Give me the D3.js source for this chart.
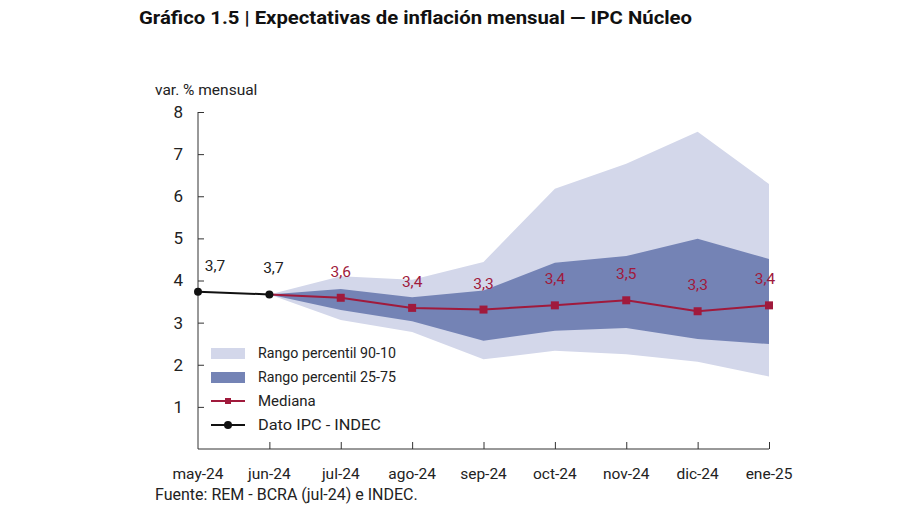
<!DOCTYPE html>
<html><head><meta charset="utf-8">
<script src="https://cdn.jsdelivr.net/npm/d3@7"></script>
<style>body{margin:0;background:#fff;} svg{display:block;font-family:Roboto, "Noto Sans", sans-serif;}</style>
</head><body><svg id="c" width="900" height="505"></svg>
<script>
const categories = ["may-24","jun-24","jul-24","ago-24","sep-24","oct-24","nov-24","dic-24","ene-25"];
const ipc = [3.73, 3.67];
const ipcLabels = ["3,7","3,7"];
const mediana = [null, 3.67, 3.59, 3.35, 3.31, 3.41, 3.53, 3.27, 3.41];
const medianaLabels = [null, null, "3,6","3,4","3,3","3,4","3,5","3,3","3,4"];
const p90 = [null, 3.67, 4.10, 4.02, 4.44, 6.18, 6.77, 7.53, 6.29];
const p10 = [null, 3.67, 3.06, 2.78, 2.13, 2.33, 2.25, 2.07, 1.72];
const p75 = [null, 3.67, 3.80, 3.60, 3.76, 4.42, 4.58, 4.99, 4.51];
const p25 = [null, 3.67, 3.30, 3.03, 2.57, 2.81, 2.87, 2.61, 2.49];
const yTicks = [1,2,3,4,5,6,7,8];

const svg = d3.select("#c");
const x = d3.scalePoint().domain(categories).range([198, 769]);
const y = d3.scaleLinear().domain([0, 8]).range([449, 112]);
const light = "#d3d7ea", dark = "#7483b5", red = "#a01a3c";

svg.append("text").attr("x",139).attr("y",24).attr("font-weight","bold").attr("font-size",18)
  .attr("fill","#111").attr("textLength",553).attr("lengthAdjust","spacingAndGlyphs")
  .text("Gráfico 1.5 | Expectativas de inflación mensual — IPC Núcleo");

const idx = d3.range(1, categories.length);
const area = (lo, hi) => d3.area().x(i => x(categories[i])).y0(i => y(lo[i])).y1(i => y(hi[i]));
svg.append("path").datum(idx).attr("d", area(p10, p90)).attr("fill", light);
svg.append("path").datum(idx).attr("d", area(p25, p75)).attr("fill", dark);

// axes
const yAxis = svg.append("g").attr("transform","translate(198,0)")
  .call(d3.axisRight(y).tickValues(yTicks).tickSize(6).tickFormat(""));
yAxis.select(".domain").attr("d", `M0,${y(8)}V${y(0)}`).attr("stroke","#333");
yAxis.selectAll(".tick line").attr("stroke","#333");
yTicks.forEach(t => svg.append("text").attr("x",183).attr("y",y(t)).attr("dy","0.35em")
  .attr("text-anchor","end").attr("font-size",17).attr("fill","#222").text(t));
svg.append("text").attr("x",155).attr("y",95).attr("font-size",15.5).attr("fill","#222").text("var. % mensual");

const xAxis = svg.append("g").attr("transform",`translate(0,${y(0)})`)
  .call(d3.axisTop(x).tickSize(7).tickFormat(""));
xAxis.select(".domain").attr("d", `M198,0H769`).attr("stroke","#333");
xAxis.selectAll(".tick line").attr("stroke","#333");
xAxis.selectAll(".tick").filter(d => d === categories[0]).remove();
categories.forEach(c => svg.append("text").attr("x", x(c)).attr("y", 479).attr("text-anchor","middle")
  .attr("font-size",15.5).attr("fill","#222").text(c));
svg.append("text").attr("x",155).attr("y",500).attr("font-size",16).attr("fill","#222")
  .text("Fuente: REM - BCRA (jul-24) e INDEC.");

// median
const line = d3.line().defined(d => d.v != null).x(d => x(d.c)).y(d => y(d.v));
const medData = categories.map((c,i) => ({c, v: mediana[i], l: medianaLabels[i]}));
svg.append("path").datum(medData).attr("d", line).attr("fill","none").attr("stroke",red).attr("stroke-width",2);
svg.selectAll(".mk").data(medData.filter((d,i) => i >= 2)).enter().append("rect")
  .attr("x", d => x(d.c)-4).attr("y", d => y(d.v)-4).attr("width",8).attr("height",8).attr("fill",red);
svg.selectAll(".ml").data(medData.filter(d => d.l)).enter().append("text")
  .attr("x", d => x(d.c) - (d.c === "ene-25" ? 4 : 0)).attr("y", d => y(d.v)-21).attr("text-anchor","middle")
  .attr("font-size",15.5).attr("fill",red).text(d => d.l);

// IPC
const ipcData = ipc.map((v,i) => ({c: categories[i], v, l: ipcLabels[i]}));
svg.append("path").datum(ipcData).attr("d", line).attr("fill","none").attr("stroke","#111").attr("stroke-width",2);
svg.selectAll(".ip").data(ipcData).enter().append("circle")
  .attr("cx", d => x(d.c)).attr("cy", d => y(d.v)).attr("r",4).attr("fill","#111");
svg.selectAll(".il").data(ipcData).enter().append("text")
  .attr("x", (d,i) => x(d.c) + (i===0 ? 17 : 4)).attr("y", d => y(d.v)-21).attr("text-anchor","middle")
  .attr("font-size",15.5).attr("fill","#222").text(d => d.l);

// legend
const lg = svg.append("g");
const items = [
  {t:"Rango percentil 90-10", type:"rect", col: light},
  {t:"Rango percentil 25-75", type:"rect", col: dark},
  {t:"Mediana", type:"line", col: red, mk:"sq"},
  {t:"Dato IPC - INDEC", type:"line", col: "#111", mk:"ci"}
];
items.forEach((it,i) => {
  const cy = 353 + i*24;
  if (it.type === "rect") lg.append("rect").attr("x",211).attr("y",cy-5).attr("width",34).attr("height",11).attr("fill",it.col);
  else {
    lg.append("line").attr("x1",211).attr("x2",245).attr("y1",cy).attr("y2",cy).attr("stroke",it.col).attr("stroke-width",2);
    if (it.mk === "sq") lg.append("rect").attr("x",225).attr("y",cy-3).attr("width",6).attr("height",6).attr("fill",it.col);
    else lg.append("circle").attr("cx",228).attr("cy",cy).attr("r",4).attr("fill",it.col);
  }
  lg.append("text").attr("x",258).attr("y",cy).attr("dy","0.35em").attr("font-size",15).attr("fill","#222")
    .attr("textLength", it.t.length > 10 ? (it.t === "Dato IPC - INDEC" ? 123 : 138) : null)
    .attr("lengthAdjust","spacingAndGlyphs").text(it.t);
});
</script></body></html>
